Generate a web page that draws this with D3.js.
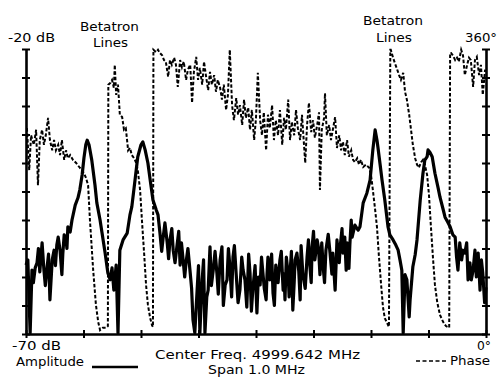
<!DOCTYPE html>
<html>
<head>
<meta charset="utf-8">
<script src="https://cdn.jsdelivr.net/npm/d3@7"></script>
<style>
  html, body { margin: 0; padding: 0; background: #fff; }
  svg { display: block; }
  text { font-family: "DejaVu Sans", "Liberation Sans", sans-serif; font-size: 12.5px; fill: #000; }
</style>
</head>
<body>
<svg id="chart" width="498" height="381"></svg>
<script>
// Frequency offset from center (kHz) and amplitude (dB) of the spectrum trace
const ampFreq = [
  -500,-496,-491,-487,-484,-480,-476,-473,-470,-465,-461,-458,-454,
  -451,-448,-443,-439,-436,-433,-430,-426,-422,-420,-417,-413,-411,-409,-404,-400,
  -393,-387,-383,-378,-374,-370,-367,-363,-357,
  -350,-346,-339,-335,-328,-322,-317,-313,-309,-304,
  -300,-296,-289,-280,-274,-270,-263,-257,-250,-246,
  -241,-235,-230,-224,-217,-213,
  -209,-205,-202,-198,-193,-190,-187,-183,-180,-176,-172,-168,-165,
  -162,-159,-155,-152,-148,-143,-140,-137,-133,-128,-125,-122,
  -117,-114,-111,-107,-104,-100,-97,-93,-89,-85,-82,-78,
  -74,-71,-67,-63,-60,-57,-53,-50,-47,-43,-39,-35,
  -31,-28,-24,-20,-16,-13,-10,-7,-2,2,5,9,
  12,15,18,22,24,26,30,34,37,40,43,48,
  52,55,59,61,63,66,70,72,74,77,80,83,
  85,89,93,96,98,102,107,111,114,117,120,
  122,125,128,133,136,139,143,146,149,152,157,161,
  165,167,172,174,176,181,183,187,189,193,196,198,200,202,204,207,209,
  215,222,226,233,241,248,254,
  259,263,265,270,274,280,287,291,298,
  304,309,313,317,320,324,328,333,335,341,
  346,350,357,363,367,372,374,378,383,389,
  396,400,407,411,417,422,428,
  433,436,439,443,447,450,454,458,461,465,
  468,472,476,479,483,487,490,493,497,500
];
const ampDb = [
  -57.9,-57.0,-69.8,-58.8,-61.0,-58.4,-57.5,-55.0,-59.1,-54.0,-58.8,-61.5,-58.2,
  -56.0,-64.0,-57.0,-55.3,-58.0,-54.4,-53.0,-55.3,-59.6,-56.0,-52.6,-53.5,-55.0,-51.2,-52.1,-50.0,
  -47.4,-46.1,-44.7,-42.1,-39.1,-36.8,-36.0,-36.8,-39.5,
  -43.9,-47.0,-50.0,-52.1,-55.8,-59.3,-60.5,-58.4,-62.3,-57.9,
  -69.8,-55.3,-53.5,-52.3,-49.1,-47.7,-43.0,-38.9,-36.8,-36.3,
  -37.7,-40.0,-43.0,-46.5,-48.2,-49.1,
  -52.1,-55.5,-53.2,-50.5,-54.0,-56.8,-53.5,-51.5,-55.3,-57.5,-54.7,-52.0,-57.9,
  -54.0,-56.5,-60.0,-57.4,-55.0,-59.3,-62.0,-67.5,-69.8,-62.3,-58.0,-69.8,
  -60.5,-57.0,-69.8,-63.5,-62.3,-54.7,-61.5,-58.8,-55.5,-59.3,-63.0,-57.0,
  -54.7,-65.0,-61.4,-60.5,-55.0,-57.9,-63.5,-56.5,-54.5,-59.6,-64.5,-62.3,
  -56.5,-58.8,-60.5,-65.3,-56.0,-59.3,-66.0,-62.3,-58.0,-66.3,-60.0,-61.4,
  -56.5,-59.3,-62.0,-64.0,-59.5,-56.5,-60.5,-56.0,-62.8,-65.0,-57.9,-61.0,
  -57.0,-55.5,-62.3,-59.5,-64.0,-56.5,-59.6,-63.5,-59.3,-55.5,-65.8,-61.0,
  -57.0,-55.8,-59.0,-64.0,-54.5,-59.6,-62.0,-56.5,-53.5,-57.9,-61.0,
  -54.7,-52.0,-57.0,-53.5,-55.0,-59.6,-54.0,-58.2,-61.0,-55.3,-52.5,-55.8,
  -59.5,-55.8,-62.3,-58.0,-53.5,-57.5,-54.7,-51.5,-55.8,-53.0,-58.8,-54.0,-56.5,-58.5,-54.4,-50.0,-53.0,
  -50.9,-51.8,-51.2,-47.0,-45.3,-43.0,-37.7,
  -34.2,-36.0,-37.2,-40.4,-43.0,-46.5,-51.2,-52.6,-53.5,
  -54.4,-55.3,-57.0,-58.8,-69.8,-59.6,-60.5,-67.0,-64.0,-58.2,
  -56.1,-53.5,-46.5,-41.8,-39.5,-38.9,-37.7,-38.1,-38.9,-41.8,
  -44.4,-46.0,-48.2,-49.5,-50.4,-51.2,-52.6,
  -53.0,-56.5,-58.8,-54.0,-57.0,-55.3,-55.8,-54.0,-60.5,-57.5,
  -60.5,-58.8,-55.3,-60.0,-55.8,-62.3,-57.0,-59.3,-64.5,-61.8
];

// Frequency offset (kHz) and phase (degrees) of the phase trace
const phaseFreq = [
  -498,-493,-489,-483,-478,-474,-470,-465,-461,-457,
  -452,-448,-443,-439,-435,-430,-426,-422,-417,-413,
  -409,-404,-398,-391,-383,-376,-370,-365,-361,-354,
  -348,-343,-339,-333,-326,-322,-321,-317,-313,-309,
  -307,-304,-300,-298,-296,-291,-287,-283,-278,-274,
  -270,-265,-261,-257,-252,-248,-243,-239,-235,-230,
  -226,-224,-223,-217,-213,-209,-204,-200,-196,-191,
  -187,-183,-178,-174,-170,-165,-161,-157,-152,-148,
  -143,-139,-135,-130,-126,-122,-117,-113,-109,-104,
  -100,-96,-91,-87,-83,-78,-74,-70,-65,-61,
  -57,-52,-48,-43,-39,-35,-30,-26,-22,-17,
  -13,-9,-4,0,4,9,13,17,22,26,
  30,35,39,43,48,52,57,61,65,70,
  74,78,83,87,91,96,100,107,111,115,
  120,124,128,133,137,139,143,148,150,154,
  159,163,167,172,176,181,185,189,193,198,
  202,207,211,215,220,224,228,233,239,246,
  250,254,259,263,267,272,276,280,285,289,
  292,293,298,302,307,311,315,320,324,328,
  333,337,341,346,350,354,359,363,367,372,
  376,380,385,389,394,400,407,413,420,422,
  424,428,433,437,441,446,450,454,459,463,
  467,472,476,480,485,489,493,498
];
const phaseDeg = [
  260,207,251,239,258,188,245,258,239,251,
  273,245,232,245,232,239,226,245,220,232,
  222,226,220,216,210,205,198,188,144,81,
  37,15,5,8,8,10,315,317,321,311,
  340,302,315,296,277,274,258,260,232,235,
  226,222,217,207,182,144,100,62,37,20,
  11,9,359,356,359,355,352,346,344,325,
  346,340,349,340,312,346,337,344,321,334,
  340,292,331,350,321,336,315,344,327,308,
  331,315,327,306,321,311,296,315,283,302,
  359,289,270,298,277,289,264,296,273,286,
  258,283,245,273,330,270,251,280,232,277,
  260,289,245,270,251,283,239,273,258,296,
  245,268,251,283,260,245,277,216,264,292,
  255,270,248,264,280,182,258,273,304,251,
  264,245,258,274,235,251,232,243,226,245,
  224,232,220,217,222,214,220,211,214,210,
  201,182,157,135,100,62,34,20,14,9,
  359,359,349,342,334,327,321,330,306,296,
  277,258,239,222,214,210,217,220,214,201,
  176,138,94,62,40,24,15,10,8,355,
  355,352,346,349,344,359,352,327,340,349,
  346,312,346,350,327,340,302,334
];

// Graticule tick values
const freqTicks = [-500,-375,-250,-125,0,125,250,375,500];
const dbTicks = [-20,-25,-30,-35,-40,-45,-50,-55,-60,-65,-70];
const degTicks = [0,36,72,108,144,180,216,252,288,324,360];

const svg = d3.select("#chart");
const plotLeft = 26, plotRight = 486, plotTop = 49, plotBottom = 334;

const x = d3.scaleLinear().domain([-500, 500]).range([plotLeft, plotRight]);
const yAmp = d3.scaleLinear().domain([-70, -20]).range([plotBottom, plotTop]);
const yPh = d3.scaleLinear().domain([0, 360]).range([plotBottom, plotTop]);

// Axes with ticks crossing the axis line
function styleAxis(g, vertical) {
  g.select(".domain").attr("stroke", "#000").attr("stroke-width", 2.6);
  g.selectAll(".tick line").attr("stroke", "#000").attr("stroke-width", 2);
  if (vertical) g.selectAll(".tick line").attr("x1", -4).attr("x2", 4);
  else g.selectAll(".tick line").attr("y1", -4).attr("y2", 4);
  g.selectAll(".tick text").remove();
}

svg.append("g").attr("transform", `translate(${plotLeft},0)`)
  .call(d3.axisLeft(yAmp).tickValues(dbTicks).tickFormat("").tickSizeOuter(0))
  .call(g => styleAxis(g, true));
svg.append("g").attr("transform", `translate(${plotRight},0)`)
  .call(d3.axisRight(yPh).tickValues(degTicks).tickFormat("").tickSizeOuter(0))
  .call(g => styleAxis(g, true));
svg.append("g").attr("transform", `translate(0,${plotBottom})`)
  .call(d3.axisBottom(x).tickValues(freqTicks).tickFormat("").tickSizeOuter(0))
  .call(g => styleAxis(g, false));

// Phase trace (dashed)
const phaseLine = d3.line().x(i => x(phaseFreq[i])).y(i => yPh(phaseDeg[i]));
svg.append("path")
  .attr("d", phaseLine(d3.range(phaseFreq.length)))
  .attr("fill", "none").attr("stroke", "#000")
  .attr("stroke-width", 2).attr("stroke-dasharray", "3.5,2");

// Amplitude trace (solid, heavy)
const ampLine = d3.line().x(i => x(ampFreq[i])).y(i => yAmp(ampDb[i]));
svg.append("path")
  .attr("d", ampLine(d3.range(ampFreq.length)))
  .attr("fill", "none").attr("stroke", "#000")
  .attr("stroke-width", 3.2).attr("stroke-linejoin", "round");

// Labels
const labels = [
  { t: "-20 dB", x: 8, y: 41.5, w: 47 },
  { t: "Betatron", x: 80, y: 30.5, w: 59 },
  { t: "Lines", x: 93, y: 47, w: 35 },
  { t: "Betatron", x: 363, y: 24.5, w: 60 },
  { t: "Lines", x: 376, y: 41.5, w: 36 },
  { t: "360°", x: 465, y: 41.5, w: 32 },
  { t: "-70 dB", x: 12, y: 349.5, w: 49 },
  { t: "Amplitude", x: 16, y: 365.5, w: 68 },
  { t: "Center Freq. 4999.642 MHz", x: 155, y: 358.5, w: 205 },
  { t: "Span 1.0 MHz", x: 208, y: 374, w: 97 },
  { t: "0°", x: 477, y: 350, w: 14 },
  { t: "Phase", x: 450, y: 364.5, w: 40 }
];
svg.selectAll("text.lbl").data(labels).join("text")
  .attr("class", "lbl")
  .attr("x", d => d.x).attr("y", d => d.y)
  .attr("textLength", d => d.w).attr("lengthAdjust", "spacingAndGlyphs")
  .text(d => d.t);

// Legend strokes
svg.append("line").attr("x1", 92).attr("x2", 138).attr("y1", 367).attr("y2", 367)
  .attr("stroke", "#000").attr("stroke-width", 2.5);
svg.append("line").attr("x1", 416).attr("x2", 448).attr("y1", 361).attr("y2", 361)
  .attr("stroke", "#000").attr("stroke-width", 1.5).attr("stroke-dasharray", "4,2.5");
</script>
</body>
</html>
